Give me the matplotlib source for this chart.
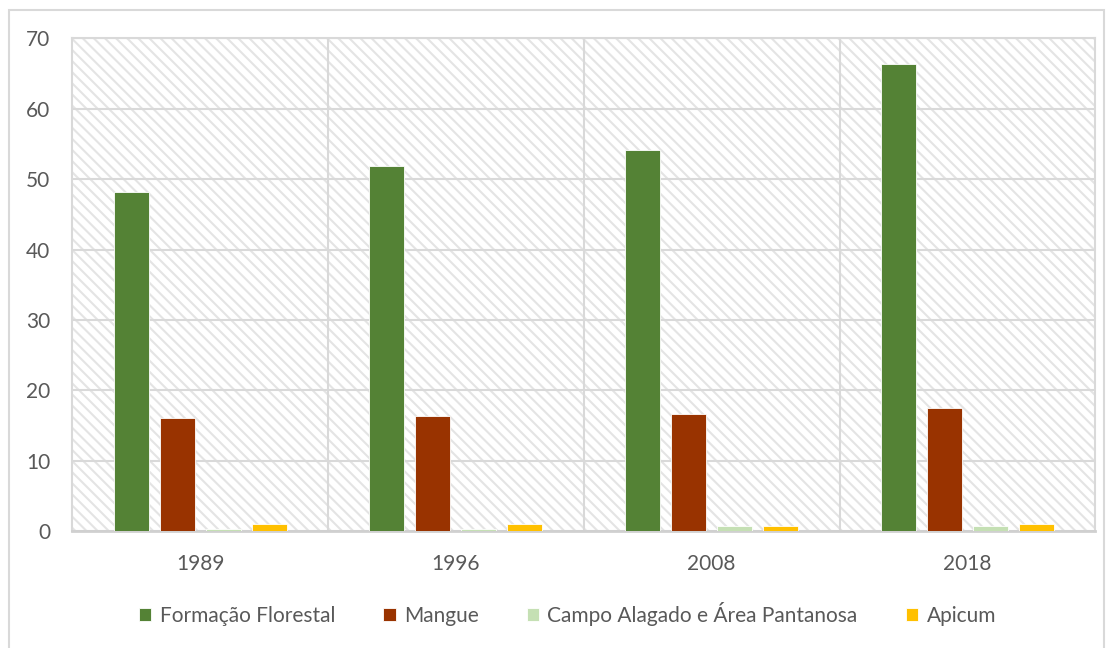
import numpy as np
import matplotlib.pyplot as plt
from matplotlib.patches import Rectangle

anos = ['1989', '1996', '2008', '2018']
series = ['Formação Florestal', 'Mangue', 'Campo Alagado e Área Pantanosa', 'Apicum']
formacao = [48.2, 51.9, 54.1, 66.3]
mangue = [16.1, 16.4, 16.7, 17.5]
campo = [0.4, 0.4, 0.7, 0.7]
apicum = [1.0, 1.0, 0.7, 1.0]
cores = ['#548235', '#993300', '#c5e0b4', '#ffc000']

plt.rcParams['font.family'] = ['Lato', 'DejaVu Sans']
plt.rcParams['hatch.color'] = '#e4e4e4'
plt.rcParams['hatch.linewidth'] = 1.5

fig = plt.figure(figsize=(11.12, 6.48), dpi=100)
# borda externa do gráfico
fig.patches.append(Rectangle((0.008, -0.01), 0.985, 0.995, transform=fig.transFigure,
                             fill=False, edgecolor='#d9d9d9', linewidth=1.5))
ax = fig.add_axes([0.065, 0.18, 0.92, 0.761])

# fundo listrado
ax.add_patch(Rectangle((0, 0), 1, 1, transform=ax.transAxes, facecolor='white',
                       hatch='\\\\\\', edgecolor='#e4e4e4', linewidth=0, zorder=0))

x = np.arange(len(anos))
largura = 0.137
passo = 0.18
valores = [formacao, mangue, campo, apicum]
for i, (nome, v, c) in enumerate(zip(series, valores, cores)):
    ax.bar(x + (i - 1.5) * passo, v, largura, color=c, label=nome,
           edgecolor='white', linewidth=0.6, zorder=3)

ax.set_xlim(-0.5, 3.5)
ax.set_ylim(0, 70)
ax.set_yticks(range(0, 71, 10))
ax.set_xticks(x)
ax.set_xticklabels(anos)
ax.grid(axis='y', color='#d9d9d9', linewidth=1.5, zorder=1)
for b in [0.5, 1.5, 2.5]:
    ax.axvline(b, color='#d9d9d9', linewidth=1.5, zorder=1)

for s in ['left', 'right', 'top']:
    ax.spines[s].set_color('#d9d9d9')
    ax.spines[s].set_linewidth(1.5)
ax.spines['bottom'].set_color('#d0d0d0')
ax.spines['bottom'].set_linewidth(2)
ax.tick_params(length=0, labelsize=15, colors='#595959')
ax.tick_params(axis='x', pad=16)
ax.tick_params(axis='y', pad=16)

ax.legend(loc='center', bbox_to_anchor=(0.484, -0.168), ncol=4, frameon=False,
          fontsize=15, labelcolor='#595959', handlelength=0.6, handleheight=0.6,
          handletextpad=0.4, columnspacing=2.3)

fig.savefig('out.png', dpi=100)
